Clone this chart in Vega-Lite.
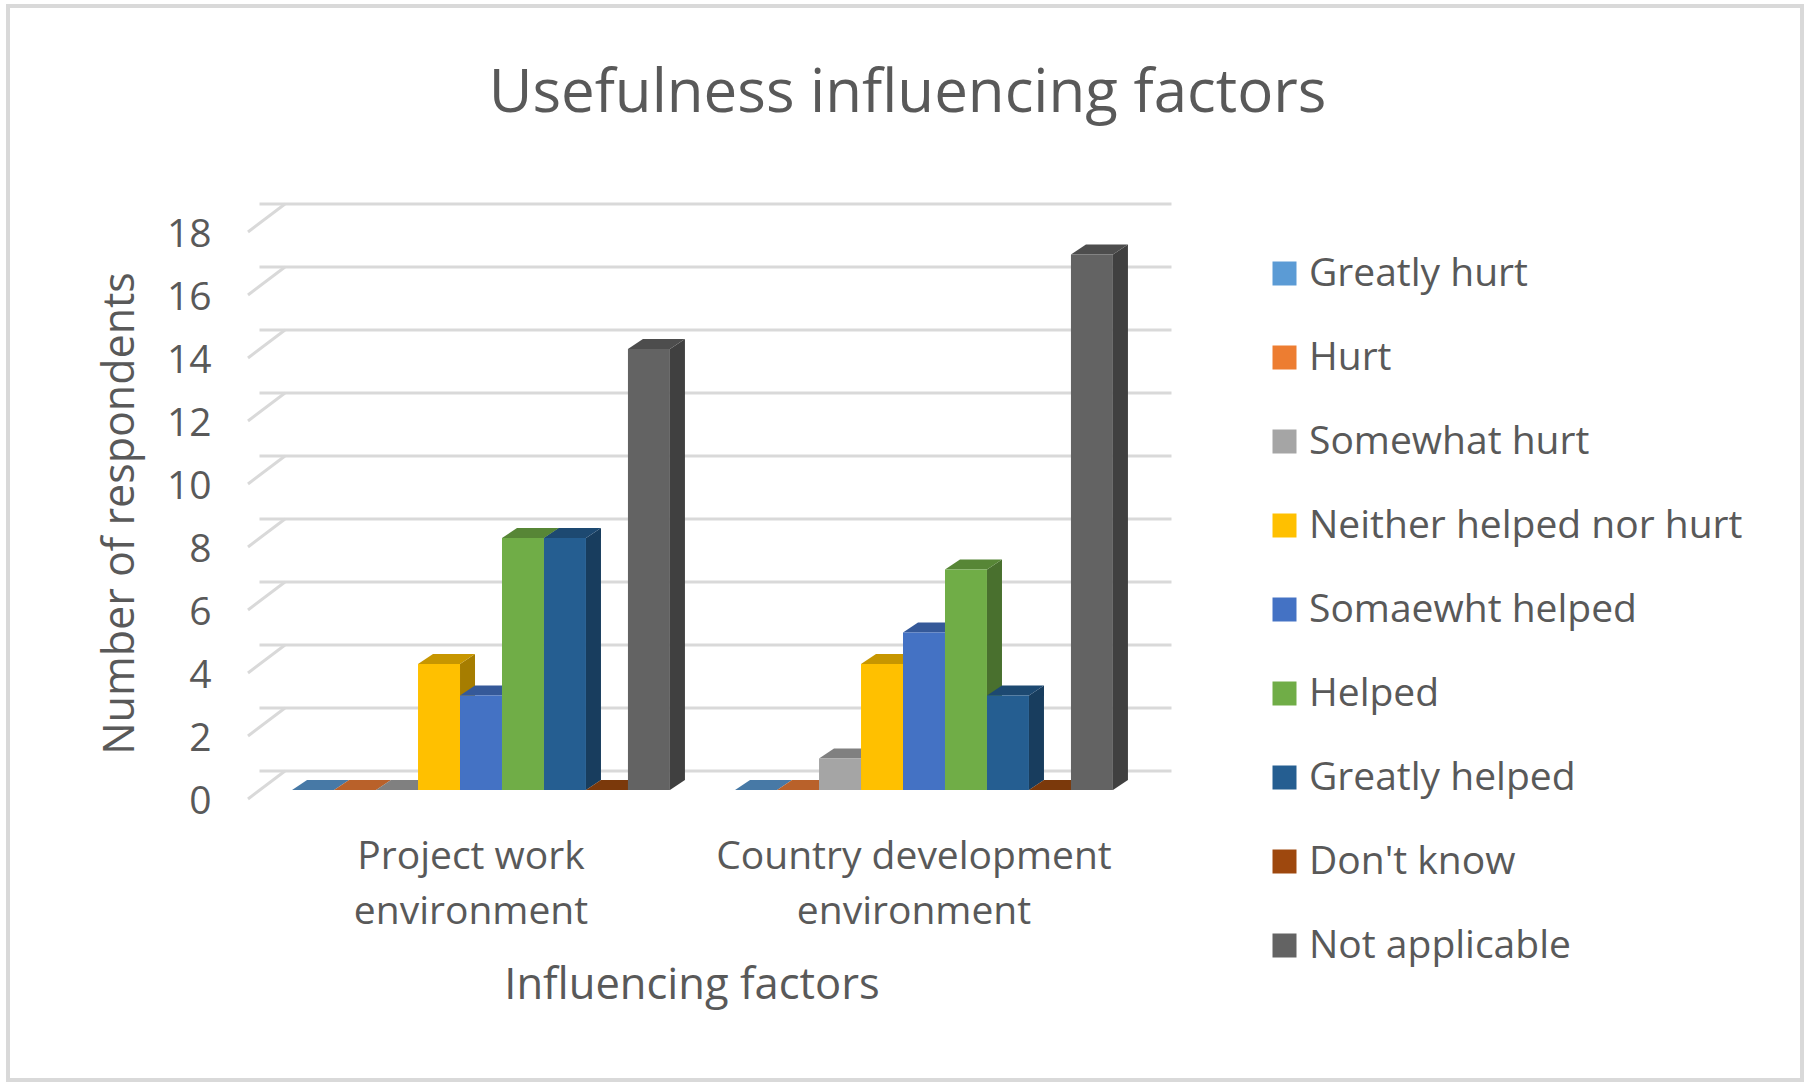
{"$schema":"https://vega.github.io/schema/vega-lite/v6.json","width":886,"height":567,"autosize":"none","padding":{"left":259.5,"top":223,"right":662.5,"bottom":292},"background":"#ffffff","config":{"view":{"stroke":null},"font":"Open Sans"},
"title":{"text":"Usefulness influencing factors","anchor":"middle","dx":205,"offset":-127,"fontSize":60,"fontWeight":"normal","color":"#595959","font":"Open Sans"},
"datasets":{"bars":[
{"factor":"Project work environment","response":"Greatly hurt","count":0},
{"factor":"Project work environment","response":"Hurt","count":0},
{"factor":"Project work environment","response":"Somewhat hurt","count":0},
{"factor":"Project work environment","response":"Neither helped nor hurt","count":4},
{"factor":"Project work environment","response":"Somaewht helped","count":3},
{"factor":"Project work environment","response":"Helped","count":8},
{"factor":"Project work environment","response":"Greatly helped","count":8},
{"factor":"Project work environment","response":"Don't know","count":0},
{"factor":"Project work environment","response":"Not applicable","count":14},
{"factor":"Country development environment","response":"Greatly hurt","count":0},
{"factor":"Country development environment","response":"Hurt","count":0},
{"factor":"Country development environment","response":"Somewhat hurt","count":1},
{"factor":"Country development environment","response":"Neither helped nor hurt","count":4},
{"factor":"Country development environment","response":"Somaewht helped","count":5},
{"factor":"Country development environment","response":"Helped","count":7},
{"factor":"Country development environment","response":"Greatly helped","count":3},
{"factor":"Country development environment","response":"Don't know","count":0},
{"factor":"Country development environment","response":"Not applicable","count":17}],
"ticks":[{"tick":0},{"tick":2},{"tick":4},{"tick":6},{"tick":8},{"tick":10},{"tick":12},{"tick":14},{"tick":16},{"tick":18}],
"frame":[{"frame":"chart area"}]},
"resolve":{"scale":{"color":"independent","shape":"independent"}},
"layer":[
{"data":{"name":"frame"},"mark":{"type":"point","filled":false,"size":4,"stroke":"#d9d9d9","strokeWidth":4,"opacity":1,"shape":"M-251.5,-217L1542.5,-217L1542.5,857L-251.5,857Z"},"encoding":{"x":{"value":0},"y":{"datum":18,"scale":{"domain":[0,18],"nice":false},"axis":{"title":"Number of respondents","titleX":-139,"titleY":290,"titleAlign":"center","titleBaseline":"middle","titleFontSize":43,"titleFontWeight":"normal","titleColor":"#595959","values":[0,2,4,6,8,10,12,14,16,18],"labelFontSize":39,"labelColor":"#595959","labelPadding":48.5,"labelOffset":11,"ticks":false,"domain":false,"grid":false}}}},
{"data":{"name":"ticks"},"mark":{"type":"rule","stroke":"#d9d9d9","strokeWidth":3,"xOffset":26,"yOffset":-19},"encoding":{"y":{"field":"tick","type":"quantitative","scale":{"domain":[0,18],"nice":false}}}},
{"data":{"name":"ticks"},"mark":{"type":"point","filled":false,"size":4,"stroke":"#d9d9d9","strokeWidth":3,"opacity":1,"shape":"M-11.5,9L25.5,-19"},"encoding":{"x":{"value":0},"y":{"field":"tick","type":"quantitative","scale":{"domain":[0,18],"nice":false}}}},
{"data":{"name":"bars"},"mark":{"type":"point","filled":true,"size":4,"opacity":1},"encoding":{
"x":{"field":"factor","type":"nominal","sort":null,"scale":{"paddingInner":0.147,"paddingOuter":0.0735},"axis":{"title":"Influencing factors","titleX":432,"titleY":195,"titleAlign":"center","titleBaseline":"middle","titleFontSize":43.5,"titleFontWeight":"normal","titleColor":"#595959","labelAngle":0,"labelFontSize":39,"labelColor":"#595959","labelPadding":47,"labelOffset":-10,"labelLineHeight":55,"labelLimit":500,"ticks":false,"domain":false,"grid":false,"labelExpr":"[replace(datum.label,' environment',''),'environment']"}},
"xOffset":{"field":"response","type":"nominal","sort":null},
"y":{"field":"count","type":"quantitative","scale":{"domain":[0,18],"nice":false}},
"color":{"field":"response","type":"nominal","sort":null,"legend":null,"scale":{"domain":["Greatly hurt","Hurt","Somewhat hurt","Neither helped nor hurt","Somaewht helped","Helped","Greatly helped","Don't know","Not applicable"],"range":["#3b6589","#9a5120","#6b6b6b","#a67d00","#2c4a80","#49702e","#183d5e","#672f09","#404040"]}},
"shape":{"field":"count","type":"nominal","legend":null,"scale":{"domain":[0,1,3,4,5,7,8,14,17],"range":["M21,0L36,-10L36,-10L21,0Z","M21,0L36,-10L36,21.5L21,31.5Z","M21,0L36,-10L36,84.5L21,94.5Z","M21,0L36,-10L36,116L21,126Z","M21,0L36,-10L36,147.5L21,157.5Z","M21,0L36,-10L36,210.5L21,220.5Z","M21,0L36,-10L36,242L21,252Z","M21,0L36,-10L36,431L21,441Z","M21,0L36,-10L36,525.5L21,535.5Z"]}}}},
{"data":{"name":"bars"},"mark":{"type":"point","filled":true,"size":4,"opacity":1,"shape":"M-21,0L21,0L36,-10L-6,-10Z"},"encoding":{
"x":{"field":"factor","type":"nominal","sort":null,"scale":{"paddingInner":0.147,"paddingOuter":0.0735}},
"xOffset":{"field":"response","type":"nominal","sort":null},
"y":{"field":"count","type":"quantitative","scale":{"domain":[0,18],"nice":false}},
"color":{"field":"response","type":"nominal","sort":null,"legend":null,"scale":{"domain":["Greatly hurt","Hurt","Somewhat hurt","Neither helped nor hurt","Somaewht helped","Helped","Greatly helped","Don't know","Not applicable"],"range":["#4779a6","#b9612a","#808080","#c79600","#355999","#578636","#1d4971","#7b390b","#4d4d4d"]}}}},
{"data":{"name":"bars"},"mark":{"type":"bar","width":{"band":1}},"encoding":{
"x":{"field":"factor","type":"nominal","sort":null,"scale":{"paddingInner":0.147,"paddingOuter":0.0735}},
"xOffset":{"field":"response","type":"nominal","sort":null},
"y":{"field":"count","type":"quantitative","scale":{"domain":[0,18],"nice":false}},
"color":{"field":"response","type":"nominal","sort":null,"scale":{"domain":["Greatly hurt","Hurt","Somewhat hurt","Neither helped nor hurt","Somaewht helped","Helped","Greatly helped","Don't know","Not applicable"],"range":["#5b9bd5","#ed7d31","#a5a5a5","#ffc000","#4472c4","#70ad47","#255e91","#9e480e","#636363"]},"legend":{"title":null,"orient":"none","legendX":1005.5,"legendY":31,"padding":0,"symbolType":"square","symbolSize":576,"symbolStrokeWidth":0,"symbolOpacity":1,"labelFontSize":39,"labelColor":"#595959","labelLimit":500,"rowPadding":44,"labelOffset":5}}}}
]}
